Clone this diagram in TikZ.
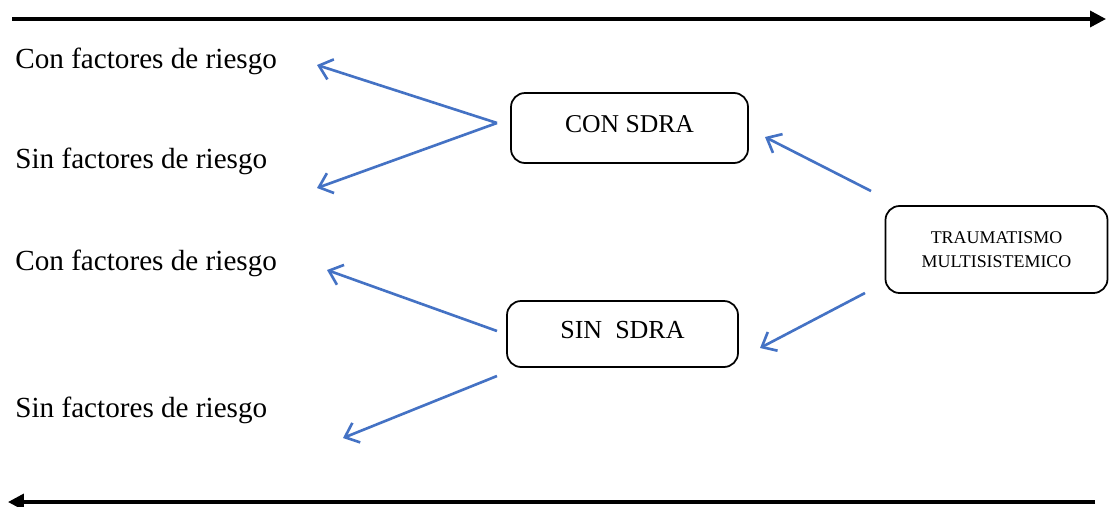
\documentclass[tikz,border=0pt]{standalone}
\usepackage{fontspec}
\setmainfont{Liberation Serif}
\usepackage{xcolor}
\usetikzlibrary{arrows.meta,positioning}

\definecolor{arrowblue}{HTML}{4472C4}

\begin{document}
\begin{tikzpicture}[x=0.02cm,y=-0.02cm,
    blueline/.style={draw=arrowblue, line width=1.5pt, -{Straight Barb[length=7pt,width=12pt]}},
    sdrabox/.style={draw, rounded corners=8pt, line width=1pt, align=center, inner sep=0pt},
    riskline/.style={anchor=base west, inner sep=0pt, font=\fontsize{16.6}{20}\selectfont},
    axisline/.style={line width=2pt}]

    \useasboundingbox (0,0) rectangle (1109,507);

    % time axis, top and bottom
    \coordinate (topL) at (12,19);
    \coordinate (topR) at (1106,19);
    \coordinate (botR) at (1095,502);
    \coordinate (botL) at (8,502);
    \draw[axisline, -{Triangle[length=9pt,width=9pt]}] (topL) -- (topR);
    \draw[axisline, -{Triangle[length=9pt,width=9pt]}] (botR) -- (botL);

    % risk factor labels
    \node[riskline] (conA) at (15,68) {Con factores de riesgo};
    \node[riskline] (sinA) at (15,168) {Sin factores de riesgo};
    \node[riskline] (conB) at (15,270) {Con factores de riesgo};
    \node[riskline] (sinB) at (15,417) {Sin factores de riesgo};

    % boxes
    \node[sdrabox, minimum width=237*0.02cm, minimum height=70*0.02cm,
          font=\fontsize{14.6}{17}\selectfont] (consdra) at (629.5,128) {\raisebox{5pt}{CON SDRA}};
    \node[sdrabox, minimum width=231*0.02cm, minimum height=66*0.02cm,
          font=\fontsize{14.8}{17}\selectfont] (sinsdra) at (622.5,334) {\raisebox{5pt}{SIN\ \ SDRA}};
    \node[sdrabox, minimum width=222*0.02cm, minimum height=87*0.02cm,
          font=\fontsize{10.2}{14}\selectfont] (trauma) at (996.5,249.5) {TRAUMATISMO\\MULTISISTEMICO};

    % arrow ends
    \coordinate (conV) at (497,123);
    \coordinate (conAend) at (317,65);
    \coordinate (sinAend) at (317,188);
    \coordinate (sinV1) at (497,331);
    \coordinate (sinV2) at (497,376);
    \coordinate (conBend) at (327,270);
    \coordinate (sinBend) at (343,438);
    \coordinate (trUp) at (871,191);
    \coordinate (trUpEnd) at (765,137);
    \coordinate (trDn) at (865,293);
    \coordinate (trDnEnd) at (760,348);

    \draw[blueline] (conV) -- (conAend);
    \draw[blueline] (conV) -- (sinAend);
    \draw[blueline] (sinV1) -- (conBend);
    \draw[blueline] (sinV2) -- (sinBend);
    \draw[blueline] (trUp) -- (trUpEnd);
    \draw[blueline] (trDn) -- (trDnEnd);
\end{tikzpicture}
\end{document}
